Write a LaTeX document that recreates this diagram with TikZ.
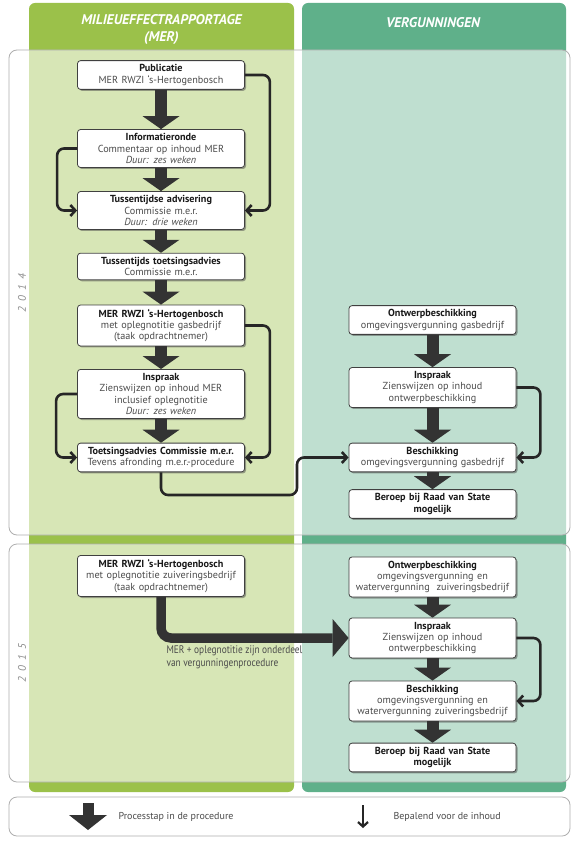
\documentclass[tikz,border=0pt]{standalone}
\usepackage{fontspec}
\setmainfont{PT Sans}
\newfontfamily\narrowfont[FakeStretch=0.85]{PT Sans}
\usetikzlibrary{arrows.meta,shadows,calc}
\definecolor{merdark}{RGB}{155,193,74}
\definecolor{vergdark}{RGB}{95,176,138}
\definecolor{arrowgray}{RGB}{51,51,51}
\definecolor{yeargray}{RGB}{140,140,140}
\definecolor{framegray}{RGB}{175,175,175}
\definecolor{txtgray}{RGB}{75,75,75}
\definecolor{titlegray}{RGB}{25,25,25}
\newcommand{\boxtitle}[1]{{\bfseries\color{titlegray}#1}}
\begin{document}
\begin{tikzpicture}[x=1pt,y=-1pt,
  stepbox/.style={draw=black!75, line width=0.8pt, fill=white, rounded corners=3pt,
    minimum width=167pt, text width=163pt, align=center, inner xsep=2pt, inner ysep=4pt,
    font=\fontsize{10.2}{11.3}\selectfont, text=txtgray,
    drop shadow={shadow xshift=1.5pt, shadow yshift=-1.5pt, opacity=0.5, fill=black!70}},
  bigarrow/.style={draw=arrowgray, line width=12pt, -{Triangle[width=37pt,length=13pt,line width=0pt]}},
  conn/.style={draw=black!85, line width=2.6pt, rounded corners=7pt, -{Straight Barb[length=5pt,width=11pt]}},
  headtxt/.style={text=white, font=\fontsize{14}{17}\selectfont\bfseries\itshape, align=center},
  yeartxt/.style={text=yeargray, font=\fontsize{11}{12}\selectfont\itshape\addfontfeature{LetterSpace=50}, rotate=90},
  frame/.style={draw=framegray, line width=0.8pt, rounded corners=8pt},
  legtxt/.style={anchor=west, text=txtgray, font=\fontsize{10}{12}\selectfont},
  narrowtxt/.style={anchor=north west, text=txtgray, align=left, font=\fontsize{11}{13.5}\narrowfont}
]
\useasboundingbox (0,0) rectangle (576,842);
\fill[white] (0,0) rectangle (576,842);
% columns
\fill[merdark, rounded corners=6pt] (29,3) rectangle (294,792);
\fill[vergdark, rounded corners=6pt] (302,3) rectangle (566,792);
% year frames
\draw[frame, fill=white, fill opacity=0.6] (9,50) rectangle (570,535);
\draw[frame, fill=white, fill opacity=0.6] (9,544) rectangle (570,782);
\draw[frame, fill=white] (9,797) rectangle (570,836);
% headers
\node[headtxt] (h1) at (161.5,30) {MILIEUEFFECTRAPPORTAGE\\(MER)};
\node[headtxt] (h2) at (433,22.5) {VERGUNNINGEN};
% year labels
\node[yeartxt] (y14) at (22,293) {2014};
\node[yeartxt] (y15) at (22,663) {2015};

% left column 2014
\node[stepbox] (L1) at (161,75) {\boxtitle{Publicatie}\\MER RWZI ‘s-Hertogenbosch};
\node[stepbox] (L2) at (161,148.5) {\boxtitle{Informatieronde}\\Commentaar op inhoud MER\\\textit{Duur: zes weken}};
\node[stepbox] (L3) at (161,210.5) {\boxtitle{Tussentijdse advisering}\\Commissie m.e.r.\\\textit{Duur: drie weken}};
\node[stepbox] (L4) at (161,266.5) {\boxtitle{Tussentijds toetsingsadvies}\\Commissie m.e.r.};
\node[stepbox] (L5) at (161,325.5) {\boxtitle{MER RWZI ‘s-Hertogenbosch}\\met oplegnotitie gasbedrijf\\(taak opdrachtnemer)};
\node[stepbox] (L6) at (161,394) {\boxtitle{Inspraak}\\Zienswijzen op inhoud MER\\inclusief oplegnotitie\\\textit{Duur: zes weken}};
\node[stepbox] (L7) at (161,457.5) {\boxtitle{Toetsingsadvies Commissie m.e.r.}\\Tevens afronding m.e.r.-procedure};

% right column 2014
\node[stepbox] (R1) at (432.5,320) {\boxtitle{Ontwerpbeschikking}\\omgevingsvergunning gasbedrijf};
\node[stepbox] (R2) at (432.5,387.5) {\boxtitle{Inspraak}\\Zienswijzen op inhoud\\ontwerpbeschikking};
\node[stepbox] (R3) at (432.5,457.5) {\boxtitle{Beschikking}\\omgevingsvergunning gasbedrijf};
\node[stepbox] (R4) at (432.5,504) {\boxtitle{Beroep bij Raad van State\\mogelijk}};

% 2015
\node[stepbox] (L8) at (161,576) {\boxtitle{MER RWZI ‘s-Hertogenbosch}\\met oplegnotitie zuiveringsbedrijf\\(taak opdrachtnemer)};
\node[stepbox] (R5) at (432.5,577) {\boxtitle{Ontwerpbeschikking}\\omgevingsvergunning en\\watervergunning\ \ zuiveringsbedrijf};
\node[stepbox] (R6) at (432.5,638) {\boxtitle{Inspraak}\\Zienswijzen op inhoud\\ontwerpbeschikking};
\node[stepbox] (R7) at (432.5,701) {\boxtitle{Beschikking}\\omgevingsvergunning en\\watervergunning zuiveringsbedrijf};
\node[stepbox] (R8) at (432.5,757.5) {\boxtitle{Beroep bij Raad van State\\mogelijk}};

% process arrows
\foreach \a/\b in {L1/L2,L2/L3,L3/L4,L4/L5,L5/L6,L6/L7,R1/R2,R2/R3,R3/R4,R5/R6,R6/R7,R7/R8}
  \draw[bigarrow] (\a.south) -- (\b.north);
\draw[draw=arrowgray, line width=9.5pt, rounded corners=10pt, -{Triangle[width=38pt,length=16pt,line width=0pt]}] (L8.south) |- (R6.west);
\node[narrowtxt] (lbl) at (163,642) {MER + oplegnotitie zijn onderdeel\\van vergunningenprocedure};

% content connectors
\draw[conn] (L1.east) -- ++(25,0) |- (L3.east);
\draw[conn] (L2.west) -- ++(-20,0) |- (L3.west);
\draw[conn] (L5.east) -- ++(25,0) |- (L7.east);
\draw[conn] (L6.west) -- ++(-21,0) |- (L7.west);
\coordinate (k1) at (297,495);
\draw[conn] (L7.south) |- (k1) |- (R3.west);
\draw[conn] (R2.east) -- ++(24,0) |- (R3.east);
\draw[conn] (R6.east) -- ++(24,0) |- (R7.east);

% legend
\coordinate (lga) at (88,803);
\coordinate (lgb) at (88,830);
\draw[draw=arrowgray, line width=11pt, -{Triangle[width=38pt,length=15pt,line width=0pt]}] (lga) -- (lgb);
\node[legtxt] (lgt1) at (115,816.5) {Processtap in de procedure};
\coordinate (lgc) at (363,805);
\coordinate (lgd) at (363,828);
\draw[draw=black!85, line width=2.2pt, -{Straight Barb[length=4.5pt,width=10pt]}] (lgc) -- (lgd);
\node[legtxt] (lgt2) at (390,816.5) {Bepalend voor de inhoud};
\end{tikzpicture}
\end{document}
